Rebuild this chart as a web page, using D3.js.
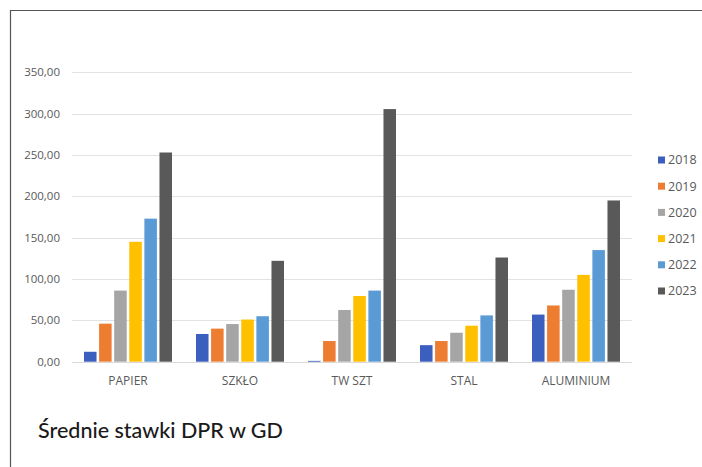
<!DOCTYPE html>
<html><head><meta charset="utf-8">
<script src="https://cdn.jsdelivr.net/npm/d3@7"></script>
<style>body{margin:0;background:#fff;}svg{display:block;}</style>
</head><body>
<svg id="c" width="702" height="467"></svg>
<script>
const categories = ["PAPIER","SZKŁO","TW SZT","STAL","ALUMINIUM"];
const years = ["2018","2019","2020","2021","2022","2023"];
const v2018 = [12, 33.5, 1, 20, 57];
const v2019 = [46, 40, 25, 25, 68];
const v2020 = [86, 45.5, 62.5, 35, 87];
const v2021 = [145, 51, 79.5, 43.5, 105];
const v2022 = [173, 55, 86, 56, 135];
const v2023 = [253, 122, 305.5, 126, 195];
const yTicks = [0,50,100,150,200,250,300,350];
const colors = ["#3a5fbf","#ed7d31","#a5a5a5","#ffc000","#5b9bd5","#595959"];
const title = "Średnie stawki DPR w GD";

const series = [v2018,v2019,v2020,v2021,v2022,v2023];
const svg = d3.select("#c");

// frame (top and left edges)
svg.append("path").attr("d","M10.5,467 V10.5 H702")
  .attr("fill","none").attr("stroke","#555").attr("stroke-width",1.2);

const x0 = d3.scaleBand().domain(categories).range([72,632]).paddingInner(0).paddingOuter(0);
const x1 = d3.scaleBand().domain(years).range([12, x0.bandwidth()-12]).paddingInner(0.17);
const y = d3.scaleLinear().domain([0,350]).range([361.7,72.3]);

// gridlines
svg.append("g").selectAll("line").data(yTicks.slice(1)).join("line")
  .attr("x1",72).attr("x2",632)
  .attr("y1",d=>Math.round(y(d))+0.5).attr("y2",d=>Math.round(y(d))+0.5)
  .attr("stroke","#e2e2e2").attr("stroke-width",1);
// baseline
svg.append("line").attr("x1",72).attr("x2",632).attr("y1",Math.round(y(0))+0.5).attr("y2",Math.round(y(0))+0.5)
  .attr("stroke","#d9d9d9");

// y labels
const fmt = d => d3.format(".2f")(d).replace(".",",");
svg.append("g").selectAll("text").data(yTicks).join("text")
  .attr("x",60).attr("y",d=>y(d)).attr("dy","0.35em").attr("text-anchor","end")
  .attr("font-family","Open Sans, sans-serif").attr("font-size",11.5).attr("fill","#595959")
  .text(fmt);

// bars
const g = svg.append("g");
categories.forEach((c,ci)=>{
  years.forEach((yr,si)=>{
    const val = series[si][ci];
    g.append("rect")
      .attr("x", x0(c)+x1(yr)).attr("width", x1.bandwidth())
      .attr("y", y(val)).attr("height", y(0)-y(val))
      .attr("fill", colors[si]);
  });
});

// x labels
svg.append("g").selectAll("text").data(categories).join("text")
  .attr("x",d=>x0(d)+x0.bandwidth()/2).attr("y",385).attr("text-anchor","middle")
  .attr("font-family","Open Sans, sans-serif").attr("font-size",12).attr("fill","#595959")
  .text(d=>d);

// legend
const lg = svg.append("g");
years.forEach((yr,i)=>{
  const cy = 160 + i*26.2;
  lg.append("rect").attr("x",658).attr("y",cy-3.5).attr("width",7).attr("height",7).attr("fill",colors[i]);
  lg.append("text").attr("x",668).attr("y",cy).attr("dy","0.35em")
    .attr("font-family","Open Sans, sans-serif").attr("font-size",12.5).attr("fill","#595959").text(yr);
});

// caption
svg.append("text").attr("x",38).attr("y",438)
  .attr("font-family","Lato, sans-serif").attr("font-size",21.5).attr("font-weight",500).attr("fill","#1a1a1a")
  .text(title);
</script>
</body></html>
